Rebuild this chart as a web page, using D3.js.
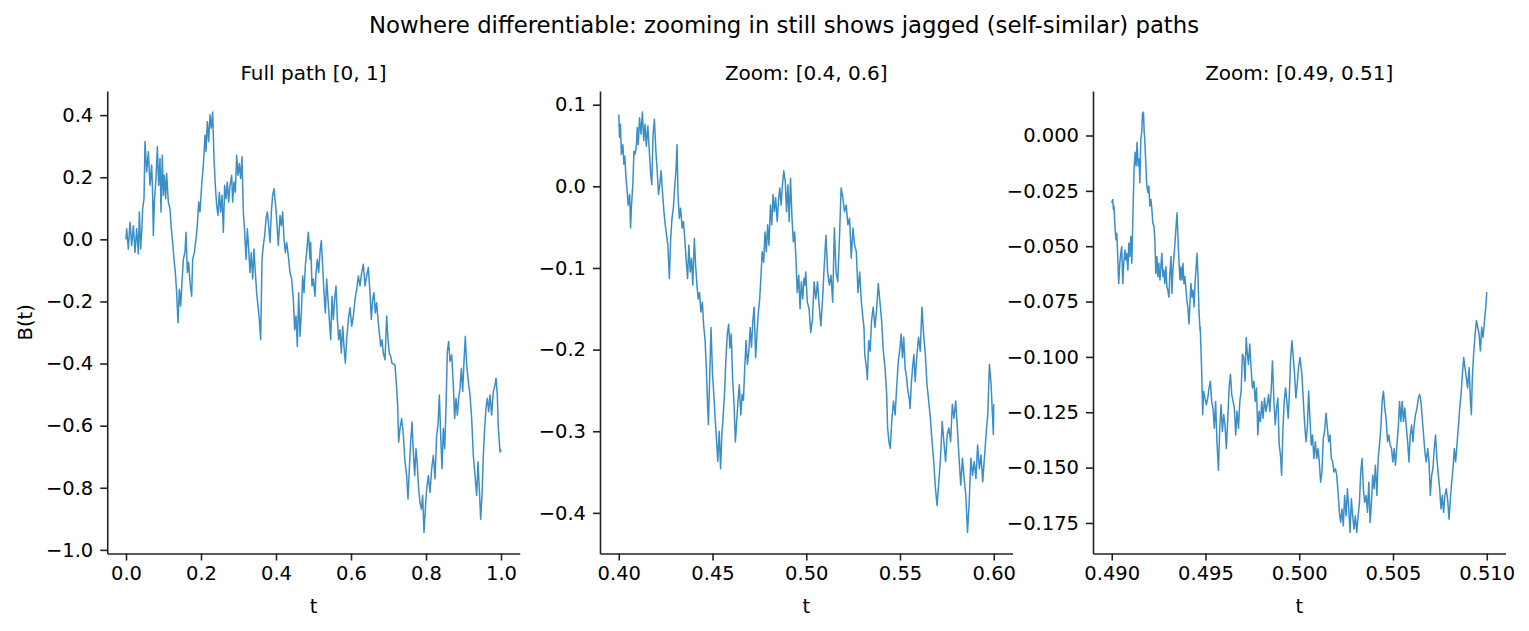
<!DOCTYPE html>
<html>
<head>
<meta charset="utf-8">
<script src="https://cdn.jsdelivr.net/npm/d3@7"></script>
<style>
body { margin: 0; background: #fff; }
text { font-family: "DejaVu Sans", sans-serif; fill: #000; }
</style>
</head>
<body>
<svg id="chart" width="1529" height="631"></svg>
<script>
// Brownian path B(t): [t, B(t)]
var fullPath = [[0,0],[0.0018,0.034],[0.0062,-0.031],[0.0107,0.055],[0.0151,-0.020],[0.0196,0.044],[0.024,-0.042],[0.0284,0.034],[0.0329,-0.047],[0.0356,0.088],[0.0391,-0.031],[0.0418,0.023],[0.0444,0.098],[0.048,0.131],[0.0507,0.315],[0.0551,0.217],[0.0596,0.282],[0.064,0.174],[0.0684,0.239],[0.0711,0.142],[0.0729,0.012],[0.0756,0.120],[0.08,0.196],[0.0836,0.298],[0.0871,0.174],[0.0907,0.260],[0.0933,0.088],[0.0969,0.271],[0.0996,0.142],[0.1022,0.206],[0.1058,0.131],[0.1084,0.212],[0.1129,0.120],[0.1173,0.098],[0.1209,0.034],[0.1244,-0.010],[0.128,-0.064],[0.1316,-0.107],[0.1351,-0.172],[0.1387,-0.269],[0.1422,-0.161],[0.1458,-0.215],[0.1493,-0.139],[0.1529,-0.064],[0.1573,-0.042],[0.16,0.023],[0.1636,-0.107],[0.1671,-0.074],[0.1707,-0.139],[0.1751,-0.183],[0.1778,-0.064],[0.1822,-0.042],[0.1867,0.001],[0.1902,0.044],[0.1938,0.120],[0.1973,0.088],[0.2018,0.174],[0.2062,0.239],[0.2107,0.336],[0.2133,0.282],[0.2169,0.379],[0.2204,0.315],[0.224,0.401],[0.2276,0.358],[0.2311,0.410],[0.2347,0.260],[0.2382,0.174],[0.2418,0.109],[0.2453,0.077],[0.2489,0.152],[0.2524,0.088],[0.256,0.142],[0.2596,0.023],[0.2631,0.174],[0.2667,0.131],[0.2702,0.185],[0.2738,0.120],[0.2773,0.174],[0.2818,0.206],[0.2844,0.120],[0.288,0.185],[0.2916,0.152],[0.2951,0.271],[0.2987,0.206],[0.3022,0.244],[0.3058,0.196],[0.3093,0.266],[0.3129,0.088],[0.3164,0.023],[0.32,-0.064],[0.3236,0.034],[0.3271,-0.031],[0.3307,-0.107],[0.3342,-0.042],[0.3378,-0.128],[0.3413,-0.031],[0.3449,-0.107],[0.3484,-0.172],[0.352,-0.215],[0.3556,-0.258],[0.3591,-0.323],[0.3627,-0.064],[0.3662,-0.020],[0.3698,0.012],[0.3733,0.066],[0.3769,0.088],[0.3804,0.044],[0.384,-0.010],[0.3876,0.088],[0.3911,0.142],[0.3947,0.163],[0.3982,0.120],[0.4018,0.066],[0.4062,-0.020],[0.4107,0.077],[0.4142,0.044],[0.4178,0.088],[0.4213,0.001],[0.4249,-0.042],[0.4284,-0.010],[0.4329,-0.053],[0.4373,-0.107],[0.4418,-0.128],[0.4462,-0.193],[0.4498,-0.291],[0.4533,-0.247],[0.4569,-0.345],[0.4604,-0.172],[0.464,-0.312],[0.4676,-0.237],[0.4711,-0.118],[0.4747,-0.172],[0.4782,-0.085],[0.4818,-0.042],[0.4862,0.023],[0.4907,-0.064],[0.4924,-0.010],[0.496,-0.150],[0.4996,-0.128],[0.504,-0.183],[0.5067,-0.107],[0.5102,-0.064],[0.5138,-0.107],[0.5173,-0.042],[0.5209,-0.004],[0.5244,-0.085],[0.528,-0.172],[0.5316,-0.237],[0.5351,-0.128],[0.5387,-0.193],[0.5422,-0.258],[0.5458,-0.323],[0.5493,-0.183],[0.5529,-0.258],[0.5564,-0.193],[0.56,-0.150],[0.5636,-0.258],[0.5671,-0.323],[0.5707,-0.291],[0.5742,-0.366],[0.5778,-0.280],[0.5813,-0.345],[0.5849,-0.399],[0.5884,-0.323],[0.5929,-0.258],[0.5973,-0.220],[0.6018,-0.280],[0.6062,-0.247],[0.6107,-0.193],[0.6151,-0.161],[0.6196,-0.118],[0.624,-0.150],[0.6284,-0.107],[0.6329,-0.080],[0.6373,-0.150],[0.6418,-0.118],[0.6462,-0.091],[0.6507,-0.172],[0.6542,-0.258],[0.6578,-0.193],[0.6613,-0.172],[0.6649,-0.237],[0.6684,-0.204],[0.672,-0.258],[0.6756,-0.301],[0.6791,-0.345],[0.6827,-0.323],[0.6862,-0.366],[0.6907,-0.388],[0.6951,-0.247],[0.6987,-0.323],[0.7022,-0.366],[0.7058,-0.377],[0.7093,-0.399],[0.7173,-0.404],[0.7218,-0.480],[0.7244,-0.534],[0.7271,-0.653],[0.7307,-0.609],[0.7351,-0.577],[0.7396,-0.631],[0.744,-0.717],[0.7484,-0.761],[0.752,-0.836],[0.7556,-0.739],[0.7591,-0.653],[0.7627,-0.588],[0.7662,-0.685],[0.7698,-0.761],[0.7733,-0.674],[0.7769,-0.728],[0.7804,-0.804],[0.784,-0.847],[0.7876,-0.869],[0.7911,-0.825],[0.7947,-0.944],[0.7982,-0.869],[0.8018,-0.804],[0.8062,-0.761],[0.8107,-0.815],[0.8151,-0.739],[0.8196,-0.696],[0.824,-0.771],[0.8284,-0.631],[0.832,-0.599],[0.8356,-0.501],[0.8391,-0.631],[0.8427,-0.739],[0.8462,-0.609],[0.8498,-0.674],[0.8533,-0.544],[0.8569,-0.361],[0.8604,-0.329],[0.864,-0.393],[0.8684,-0.372],[0.8729,-0.469],[0.8764,-0.577],[0.88,-0.512],[0.8836,-0.566],[0.8871,-0.512],[0.8907,-0.480],[0.8942,-0.415],[0.8978,-0.490],[0.9013,-0.393],[0.9049,-0.312],[0.9084,-0.404],[0.9129,-0.458],[0.9173,-0.501],[0.9218,-0.577],[0.9262,-0.696],[0.9307,-0.761],[0.9351,-0.825],[0.9387,-0.717],[0.9422,-0.804],[0.9458,-0.901],[0.9493,-0.825],[0.9529,-0.696],[0.9564,-0.609],[0.96,-0.544],[0.9636,-0.512],[0.9671,-0.555],[0.9707,-0.501],[0.9751,-0.566],[0.9796,-0.490],[0.984,-0.469],[0.9867,-0.447],[0.9902,-0.501],[0.9929,-0.609],[0.9956,-0.653],[0.9973,-0.685],[1.0,-0.676]];

var midPath = [[0.4,0.088],[0.4004,0.060],[0.4009,0.076],[0.4014,0.039],[0.4022,0.051],[0.4027,0.027],[0.4032,0.037],[0.404,0.006],[0.4045,-0.006],[0.405,-0.023],[0.4058,-0.010],[0.4063,-0.051],[0.4068,-0.023],[0.4075,0.002],[0.4081,0.043],[0.4086,0.039],[0.4093,0.047],[0.4099,0.072],[0.4104,0.051],[0.4111,0.084],[0.4119,0.064],[0.4126,0.091],[0.4133,0.056],[0.414,0.076],[0.4147,0.049],[0.4155,0.074],[0.4162,0.047],[0.4169,0.019],[0.4176,0.002],[0.4183,0.064],[0.419,0.082],[0.4198,0.043],[0.4205,0.019],[0.4212,-0.010],[0.4219,0.002],[0.4226,0.019],[0.4234,-0.010],[0.4241,-0.031],[0.4248,-0.047],[0.4255,-0.060],[0.4262,-0.072],[0.427,-0.113],[0.4277,-0.064],[0.4284,-0.039],[0.4291,-0.027],[0.4298,-0.002],[0.4305,0.019],[0.4311,0.051],[0.4316,-0.010],[0.4323,-0.039],[0.433,-0.027],[0.4338,-0.051],[0.4345,-0.043],[0.4352,-0.064],[0.4359,-0.088],[0.4367,-0.113],[0.4374,-0.072],[0.4381,-0.105],[0.4388,-0.088],[0.4395,-0.121],[0.4403,-0.064],[0.441,-0.097],[0.4417,-0.121],[0.4424,-0.138],[0.4431,-0.130],[0.4438,-0.154],[0.4446,-0.142],[0.4453,-0.171],[0.446,-0.187],[0.4467,-0.222],[0.4473,-0.263],[0.4478,-0.292],[0.4485,-0.234],[0.4492,-0.173],[0.45,-0.230],[0.4507,-0.255],[0.4514,-0.284],[0.4521,-0.309],[0.4528,-0.337],[0.4536,-0.300],[0.4543,-0.346],[0.455,-0.304],[0.4557,-0.280],[0.4564,-0.255],[0.4571,-0.214],[0.4579,-0.181],[0.4586,-0.169],[0.4593,-0.198],[0.46,-0.181],[0.4607,-0.234],[0.4615,-0.267],[0.4622,-0.313],[0.4629,-0.288],[0.4636,-0.263],[0.4643,-0.243],[0.4651,-0.280],[0.4658,-0.255],[0.4665,-0.262],[0.4672,-0.222],[0.4679,-0.189],[0.4686,-0.218],[0.4694,-0.202],[0.4701,-0.173],[0.4708,-0.197],[0.4715,-0.165],[0.4722,-0.148],[0.473,-0.210],[0.4737,-0.181],[0.4744,-0.156],[0.4751,-0.140],[0.4758,-0.113],[0.4765,-0.080],[0.4773,-0.093],[0.478,-0.056],[0.4787,-0.080],[0.4794,-0.047],[0.4801,-0.072],[0.4809,-0.023],[0.4816,-0.047],[0.4823,-0.010],[0.483,-0.031],[0.4837,-0.014],[0.4845,-0.043],[0.4852,-0.018],[0.4859,-0.002],[0.4866,-0.023],[0.4873,0.002],[0.488,0.019],[0.4888,0.006],[0.4895,-0.031],[0.4902,0.002],[0.4909,-0.043],[0.4916,0.010],[0.4924,-0.039],[0.4931,-0.068],[0.4938,-0.056],[0.4945,-0.088],[0.4952,-0.130],[0.496,-0.109],[0.4967,-0.150],[0.4974,-0.117],[0.4981,-0.138],[0.4988,-0.113],[0.4992,-0.121],[0.4997,-0.105],[0.5006,-0.142],[0.5015,-0.150],[0.5024,-0.179],[0.5033,-0.163],[0.5042,-0.117],[0.5051,-0.138],[0.506,-0.117],[0.5069,-0.146],[0.5078,-0.171],[0.5087,-0.138],[0.5096,-0.097],[0.5105,-0.060],[0.5114,-0.105],[0.5123,-0.121],[0.5132,-0.109],[0.5141,-0.142],[0.515,-0.051],[0.5159,-0.105],[0.5168,-0.117],[0.5177,-0.064],[0.5186,-0.002],[0.5195,-0.014],[0.5204,-0.031],[0.5213,-0.023],[0.5222,-0.047],[0.5231,-0.039],[0.524,-0.088],[0.5249,-0.051],[0.5258,-0.072],[0.5267,-0.080],[0.5276,-0.130],[0.5285,-0.105],[0.5294,-0.142],[0.5303,-0.163],[0.5308,-0.173],[0.5312,-0.206],[0.5321,-0.222],[0.5326,-0.237],[0.5333,-0.189],[0.5341,-0.202],[0.5348,-0.165],[0.5357,-0.148],[0.5366,-0.173],[0.5375,-0.152],[0.5384,-0.119],[0.5394,-0.144],[0.5402,-0.165],[0.5411,-0.202],[0.542,-0.222],[0.5429,-0.255],[0.5434,-0.296],[0.5441,-0.313],[0.5448,-0.321],[0.5456,-0.288],[0.5465,-0.263],[0.5474,-0.280],[0.5482,-0.247],[0.5491,-0.214],[0.55,-0.198],[0.5506,-0.181],[0.5513,-0.210],[0.552,-0.185],[0.5527,-0.222],[0.5535,-0.234],[0.5542,-0.251],[0.5549,-0.259],[0.5554,-0.272],[0.556,-0.243],[0.5567,-0.222],[0.5574,-0.206],[0.5581,-0.239],[0.559,-0.206],[0.5599,-0.185],[0.5608,-0.202],[0.5617,-0.148],[0.5626,-0.181],[0.5635,-0.206],[0.5644,-0.243],[0.5653,-0.263],[0.5662,-0.284],[0.5671,-0.313],[0.568,-0.337],[0.5689,-0.370],[0.5698,-0.391],[0.5707,-0.362],[0.5716,-0.333],[0.5725,-0.288],[0.5734,-0.313],[0.5743,-0.337],[0.5752,-0.304],[0.5761,-0.296],[0.577,-0.313],[0.5779,-0.267],[0.5788,-0.284],[0.5797,-0.263],[0.5806,-0.296],[0.5815,-0.333],[0.5824,-0.366],[0.5833,-0.333],[0.5842,-0.358],[0.5851,-0.378],[0.586,-0.424],[0.5869,-0.387],[0.5878,-0.333],[0.5887,-0.354],[0.5896,-0.337],[0.5905,-0.358],[0.5914,-0.317],[0.5923,-0.346],[0.5932,-0.329],[0.5941,-0.362],[0.595,-0.333],[0.5959,-0.304],[0.5968,-0.280],[0.5977,-0.218],[0.5986,-0.243],[0.5993,-0.280],[0.5998,-0.304],[0.6,-0.267]];

var finePath = [[0.49,-0.0304],[0.49005,-0.0289],[0.49009,-0.0334],[0.49012,-0.0319],[0.49018,-0.0426],[0.49023,-0.0471],[0.49027,-0.0441],[0.49032,-0.0547],[0.49037,-0.0669],[0.49043,-0.0577],[0.49048,-0.0532],[0.49053,-0.0502],[0.49059,-0.0669],[0.49064,-0.0577],[0.4907,-0.0517],[0.49075,-0.0562],[0.4908,-0.0532],[0.49086,-0.0608],[0.49091,-0.0486],[0.49096,-0.0547],[0.49102,-0.0456],[0.49107,-0.0577],[0.49112,-0.0395],[0.49119,-0.0152],[0.49125,-0.0076],[0.4913,-0.0137],[0.49135,-0.0030],[0.49141,-0.0137],[0.49146,-0.0106],[0.4915,-0.0213],[0.49155,-0.0015],[0.4916,0.0015],[0.49164,0.0099],[0.49169,0.0106],[0.49173,0.0015],[0.49176,-0.0015],[0.49182,-0.0137],[0.49187,-0.0228],[0.49193,-0.0258],[0.49198,-0.0228],[0.49203,-0.0319],[0.49209,-0.0289],[0.49214,-0.0334],[0.49219,-0.0395],[0.49225,-0.0410],[0.4923,-0.0471],[0.49235,-0.0623],[0.49241,-0.0547],[0.49246,-0.0638],[0.49251,-0.0577],[0.49257,-0.0653],[0.49262,-0.0593],[0.49267,-0.0532],[0.49273,-0.0638],[0.49278,-0.0608],[0.49283,-0.0669],[0.49289,-0.0593],[0.49294,-0.0684],[0.49299,-0.0699],[0.49305,-0.0730],[0.4931,-0.0623],[0.49316,-0.0547],[0.49321,-0.0714],[0.49326,-0.0608],[0.49332,-0.0547],[0.49337,-0.0486],[0.49342,-0.0426],[0.49348,-0.0349],[0.49353,-0.0456],[0.49358,-0.0562],[0.49364,-0.0653],[0.49369,-0.0593],[0.49374,-0.0653],[0.4938,-0.0577],[0.49385,-0.0669],[0.4939,-0.0638],[0.49396,-0.0699],[0.49401,-0.0745],[0.49406,-0.0775],[0.49412,-0.0851],[0.49417,-0.0760],[0.49422,-0.0669],[0.49428,-0.0730],[0.49433,-0.0699],[0.49439,-0.0775],[0.49444,-0.0669],[0.49449,-0.0608],[0.49455,-0.0532],[0.4946,-0.0638],[0.49465,-0.0790],[0.49471,-0.0882],[0.49472,-0.0866],[0.49479,-0.1049],[0.49485,-0.1261],[0.4949,-0.1155],[0.49497,-0.1186],[0.49504,-0.1216],[0.49512,-0.1186],[0.49519,-0.1140],[0.49526,-0.1110],[0.49533,-0.1201],[0.4954,-0.1231],[0.49547,-0.1322],[0.49554,-0.1201],[0.49561,-0.1383],[0.49569,-0.1512],[0.49576,-0.1322],[0.49583,-0.1216],[0.4959,-0.1337],[0.49597,-0.1261],[0.49604,-0.1307],[0.49611,-0.1414],[0.49619,-0.1277],[0.49626,-0.1140],[0.49633,-0.1079],[0.4964,-0.1170],[0.49647,-0.1201],[0.49654,-0.1231],[0.49661,-0.1353],[0.49668,-0.1246],[0.49676,-0.1322],[0.49683,-0.1201],[0.4969,-0.1155],[0.49697,-0.0988],[0.49704,-0.1003],[0.49711,-0.1110],[0.49717,-0.0912],[0.49722,-0.0973],[0.49729,-0.1034],[0.49736,-0.0942],[0.49743,-0.1049],[0.4975,-0.1140],[0.49758,-0.1110],[0.49765,-0.1201],[0.49772,-0.1140],[0.49779,-0.1353],[0.49786,-0.1246],[0.49793,-0.1292],[0.498,-0.1201],[0.49807,-0.1277],[0.49815,-0.1186],[0.49822,-0.1246],[0.49829,-0.1216],[0.49836,-0.1170],[0.49843,-0.1246],[0.4985,-0.1155],[0.49857,-0.1018],[0.49865,-0.1201],[0.49872,-0.1307],[0.49879,-0.1231],[0.49886,-0.1186],[0.49893,-0.1398],[0.499,-0.1444],[0.49906,-0.1535],[0.49913,-0.1322],[0.4992,-0.1201],[0.49927,-0.1140],[0.49934,-0.1201],[0.49941,-0.1277],[0.49948,-0.1155],[0.49954,-0.1003],[0.49961,-0.0927],[0.49968,-0.1003],[0.49975,-0.1079],[0.49982,-0.1186],[0.49989,-0.1125],[0.49996,-0.1049],[0.50004,-0.1003],[0.50014,-0.1079],[0.50022,-0.1201],[0.50029,-0.1307],[0.50036,-0.1383],[0.50043,-0.1322],[0.5005,-0.1155],[0.50057,-0.1277],[0.50064,-0.1398],[0.50071,-0.1353],[0.50078,-0.1459],[0.50086,-0.1383],[0.50093,-0.1459],[0.501,-0.1414],[0.50107,-0.1474],[0.50114,-0.1566],[0.50121,-0.1520],[0.50128,-0.1368],[0.50135,-0.1337],[0.50143,-0.1254],[0.5015,-0.1322],[0.50157,-0.1383],[0.50164,-0.1353],[0.50171,-0.1459],[0.50178,-0.1474],[0.50185,-0.1520],[0.50193,-0.1505],[0.502,-0.1535],[0.50207,-0.1611],[0.50214,-0.1702],[0.50221,-0.1748],[0.50228,-0.1687],[0.50235,-0.1763],[0.50242,-0.1626],[0.5025,-0.1718],[0.50257,-0.1596],[0.50264,-0.1687],[0.50271,-0.1793],[0.50278,-0.1641],[0.50285,-0.1718],[0.50292,-0.1778],[0.50299,-0.1718],[0.50307,-0.1793],[0.50314,-0.1718],[0.50321,-0.1657],[0.50328,-0.1520],[0.50335,-0.1459],[0.50342,-0.1596],[0.50349,-0.1657],[0.50357,-0.1626],[0.50364,-0.1702],[0.50371,-0.1566],[0.50378,-0.1748],[0.50385,-0.1657],[0.50392,-0.1535],[0.50399,-0.1596],[0.50406,-0.1489],[0.50414,-0.1626],[0.50421,-0.1459],[0.50428,-0.1398],[0.50435,-0.1322],[0.50442,-0.1201],[0.50449,-0.1155],[0.50456,-0.1231],[0.50463,-0.1277],[0.50471,-0.1383],[0.50478,-0.1353],[0.50485,-0.1398],[0.50492,-0.1414],[0.50499,-0.1474],[0.50506,-0.1414],[0.50513,-0.1489],[0.50521,-0.1398],[0.50528,-0.1322],[0.50535,-0.1201],[0.50542,-0.1292],[0.50549,-0.1201],[0.50556,-0.1292],[0.50563,-0.1231],[0.5057,-0.1307],[0.50578,-0.1383],[0.50585,-0.1474],[0.50592,-0.1353],[0.50599,-0.1307],[0.50606,-0.1383],[0.50613,-0.1307],[0.5062,-0.1261],[0.50628,-0.1231],[0.50635,-0.1186],[0.50642,-0.1170],[0.50649,-0.1201],[0.50656,-0.1277],[0.50663,-0.1353],[0.5067,-0.1429],[0.50677,-0.1474],[0.50685,-0.1414],[0.50692,-0.1474],[0.50699,-0.1626],[0.50706,-0.1535],[0.50713,-0.1505],[0.5072,-0.1414],[0.50727,-0.1353],[0.50734,-0.1459],[0.50742,-0.1535],[0.50749,-0.1596],[0.50756,-0.1687],[0.50763,-0.1626],[0.5077,-0.1702],[0.50777,-0.1626],[0.50784,-0.1596],[0.50791,-0.1641],[0.50799,-0.1733],[0.50806,-0.1641],[0.50813,-0.1566],[0.5082,-0.1505],[0.50827,-0.1414],[0.50834,-0.1474],[0.50841,-0.1398],[0.50848,-0.1322],[0.50856,-0.1231],[0.50863,-0.1170],[0.5087,-0.1079],[0.50877,-0.1003],[0.50884,-0.1049],[0.50891,-0.1094],[0.50898,-0.1140],[0.50906,-0.1049],[0.50913,-0.1201],[0.50918,-0.1261],[0.50923,-0.1094],[0.5093,-0.0988],[0.50938,-0.0897],[0.50945,-0.0836],[0.50952,-0.0866],[0.50959,-0.0897],[0.50966,-0.0973],[0.50973,-0.0866],[0.5098,-0.0912],[0.50988,-0.0836],[0.50995,-0.0775],[0.51,-0.0707]];

var panelTitles = ["Full path [0, 1]", "Zoom: [0.4, 0.6]", "Zoom: [0.49, 0.51]"];
var fullXTicks = [0, 0.2, 0.4, 0.6, 0.8, 1.0];
var fullYTicks = [-1.0, -0.8, -0.6, -0.4, -0.2, 0.0, 0.2, 0.4];
var midXTicks = [0.40, 0.45, 0.50, 0.55, 0.60];
var midYTicks = [-0.4, -0.3, -0.2, -0.1, 0.0, 0.1];
var fineXTicks = [0.490, 0.495, 0.500, 0.505, 0.510];
var fineYTicks = [-0.175, -0.150, -0.125, -0.100, -0.075, -0.050, -0.025, 0.000];

var svg = d3.select('#chart');
var axTop = 91, axBottom = 553.5, axWidth = 412.5;
var lineColor = '#3a8fc8';

var panels = [
  {path: fullPath, title: panelTitles[0], xt: fullXTicks, yt: fullYTicks, xf: d3.format('.1f'), yf: d3.format('.1f'), left: 107.25, ylabel: 'B(t)'},
  {path: midPath, title: panelTitles[1], xt: midXTicks, yt: midYTicks, xf: d3.format('.2f'), yf: d3.format('.1f'), left: 600},
  {path: finePath, title: panelTitles[2], xt: fineXTicks, yt: fineYTicks, xf: d3.format('.3f'), yf: d3.format('.3f'), left: 1093}
];

// matplotlib-like 5% margins around the data
function padded(vals) {
  var e = d3.extent(vals), p = (e[1] - e[0]) * 0.05;
  return [e[0] - p, e[1] + p];
}

svg.append('text')
  .attr('x', 784).attr('y', 33)
  .attr('text-anchor', 'middle')
  .style('font-size', '22.8px')
  .text('Nowhere differentiable: zooming in still shows jagged (self-similar) paths');

panels.forEach(function(p) {
  var g = svg.append('g');
  var x = d3.scaleLinear().domain(padded(p.path.map(function(d){return d[0];}))).range([p.left, p.left + axWidth]);
  var y = d3.scaleLinear().domain(padded(p.path.map(function(d){return d[1];}))).range([axBottom, axTop]);

  var line = d3.line().x(function(d){return x(d[0]);}).y(function(d){return y(d[1]);});
  g.append('path')
    .attr('d', line(p.path))
    .attr('fill', 'none')
    .attr('stroke', lineColor)
    .attr('stroke-width', 1.5)
    .attr('stroke-linejoin', 'round');

  var xa = g.append('g')
    .attr('transform', 'translate(0,' + axBottom + ')')
    .call(d3.axisBottom(x).tickValues(p.xt).tickFormat(p.xf).tickSize(7).tickPadding(6).tickSizeOuter(0));
  var ya = g.append('g')
    .attr('transform', 'translate(' + p.left + ',0)')
    .call(d3.axisLeft(y).tickValues(p.yt).tickFormat(p.yf).tickSize(7).tickPadding(7).tickSizeOuter(0));

  [xa, ya].forEach(function(a) {
    a.attr('font-family', null).attr('font-size', null);
    a.select('.domain').attr('stroke', '#222').attr('stroke-width', 1.6);
    a.selectAll('.tick line').attr('stroke', '#222').attr('stroke-width', 1.6);
    a.selectAll('.tick text').style('font-size', '19.5px').attr('fill', '#000');
  });

  g.append('text')
    .attr('x', p.left + axWidth / 2).attr('y', 80)
    .attr('text-anchor', 'middle')
    .style('font-size', '20px')
    .text(p.title);

  g.append('text')
    .attr('x', p.left + axWidth / 2).attr('y', 613)
    .attr('text-anchor', 'middle')
    .style('font-size', '19.5px')
    .text('t');

  if (p.ylabel) {
    g.append('text')
      .attr('transform', 'translate(32,' + ((axTop + axBottom) / 2) + ') rotate(-90)')
      .attr('text-anchor', 'middle')
      .style('font-size', '19.5px')
      .text(p.ylabel);
  }
});
</script>
</body>
</html>
